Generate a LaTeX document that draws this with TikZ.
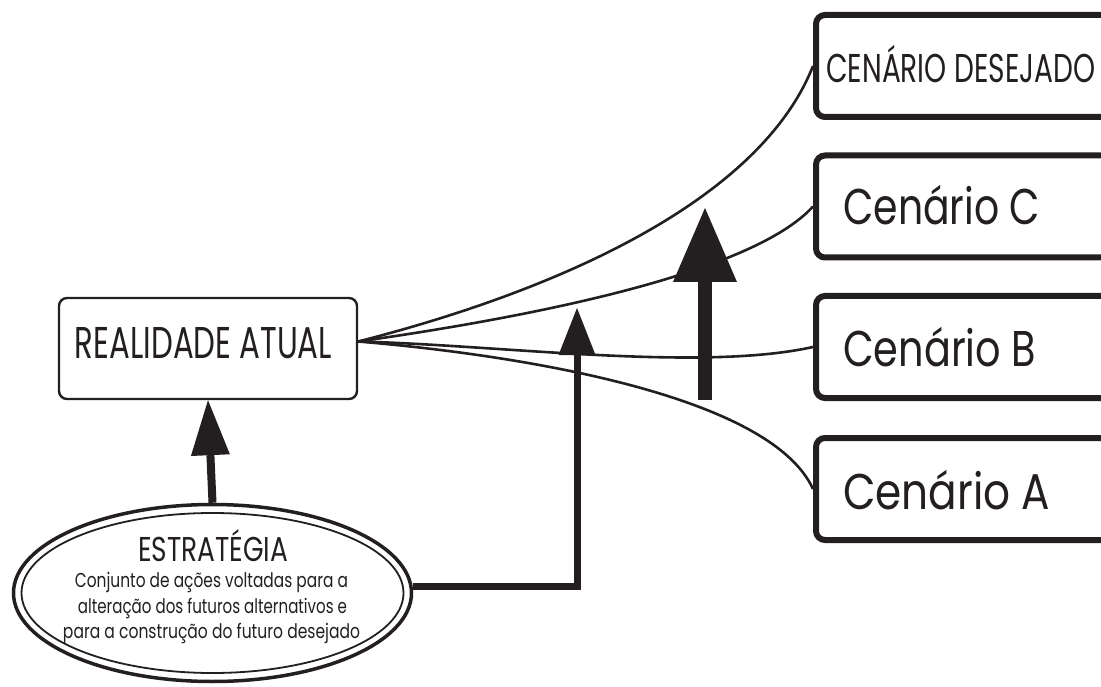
\documentclass[tikz,border=0pt]{standalone}
\usepackage{fontspec}
\setmainfont{Poppins}
\usepackage{graphicx}
\usetikzlibrary{arrows.meta,shapes.geometric}
\definecolor{ink}{RGB}{35,31,32}
\newcommand\fitt[3]{\resizebox{#1pt}{#2pt}{\vphantom{H}\smash{#3}}}
\begin{document}
\begin{tikzpicture}[x=1pt,y=-1pt,
  scen/.style={draw=ink, line width=6pt, rounded corners=9pt, minimum width=330pt, minimum height=102pt, anchor=west, inner sep=0pt},
  real/.style={draw=ink, line width=2.4pt, rounded corners=8pt, minimum width=298pt, minimum height=101pt, inner sep=0pt},
  lbl/.style={inner sep=0pt, anchor=base west, text=ink},
  curve/.style={draw=ink, line width=2.6pt},
  ellouter/.style={draw=ink, line width=3.5pt, ellipse, minimum width=398pt, minimum height=177pt, inner sep=0pt},
  ellinner/.style={draw=ink, line width=1.8pt},
  thickarrow/.style={draw=ink, line cap=butt}]
\useasboundingbox (0,0) rectangle (1101,687);
\clip (0,0) rectangle (1101,687);

% nodes
\node[real] (ra) at (208,348.5) {};
\node[lbl, anchor=base] (rat) at (203.5,358) {\fitt{257}{31}{REALIDADE ATUAL}};

\node[scen] (cd) at (813,66) {};
\node[lbl] (cdt) at (826,83) {\fitt{269}{28}{CENÁRIO DESEJADO}};
\node[scen] (cc) at (813,206.5) {};
\node[lbl] (cct) at (843,225) {\fitt{197}{35}{Cenário C}};
\node[scen] (cb) at (813,347) {};
\node[lbl] (cbt) at (843,366) {\fitt{193}{35}{Cenário B}};
\node[scen] (ca) at (813,489) {};
\node[lbl] (cat) at (843,509) {\fitt{207}{35}{Cenário A}};

\node[ellouter] (ell) at (212.5,593) {};
\draw[ellinner] (ell.center) ellipse [x radius=191, y radius=80];
\node[lbl, anchor=base] (et) at (213,561) {\fitt{150}{24}{ESTRATÉGIA}};
\node[lbl, anchor=base] (e1) at (211.5,587) {\fitt{273}{14}{Conjunto de ações voltadas para a}};
\node[lbl, anchor=base] (e2) at (212.5,613) {\fitt{269}{14}{alteração dos futuros alternativos e}};
\node[lbl, anchor=base] (e3) at (211.5,638) {\fitt{297}{14}{para a construção do futuro desejado}};

% curves
\coordinate (src) at ([yshift=7pt]ra.east);
\draw[curve] (src) .. controls (560,290) and (760,200) .. (cd.west);
\draw[curve] (src) .. controls (580,310) and (760,265) .. (cc.west);
\draw[curve] (src) .. controls (500,345) and (700,372) .. (cb.west);
\draw[curve] (src) .. controls (520,355) and (770,395) .. (ca.west);

% arrows
\draw[thickarrow, line width=8pt, -{Triangle[length=55pt,width=39pt,line width=0pt]}] (ell.north) -- (ra.south);
\coordinate (t1) at (577,308);
\draw[thickarrow, line width=7pt, line join=miter, -{Triangle[length=47pt,width=37pt,line width=0pt]}] (ell.2) -| (t1);
\coordinate (b0) at (705,400);
\coordinate (b1) at (705,208);
\draw[thickarrow, line width=14pt, -{Triangle[length=74pt,width=64pt,line width=0pt]}] (b0) -- (b1);
\end{tikzpicture}
\end{document}
